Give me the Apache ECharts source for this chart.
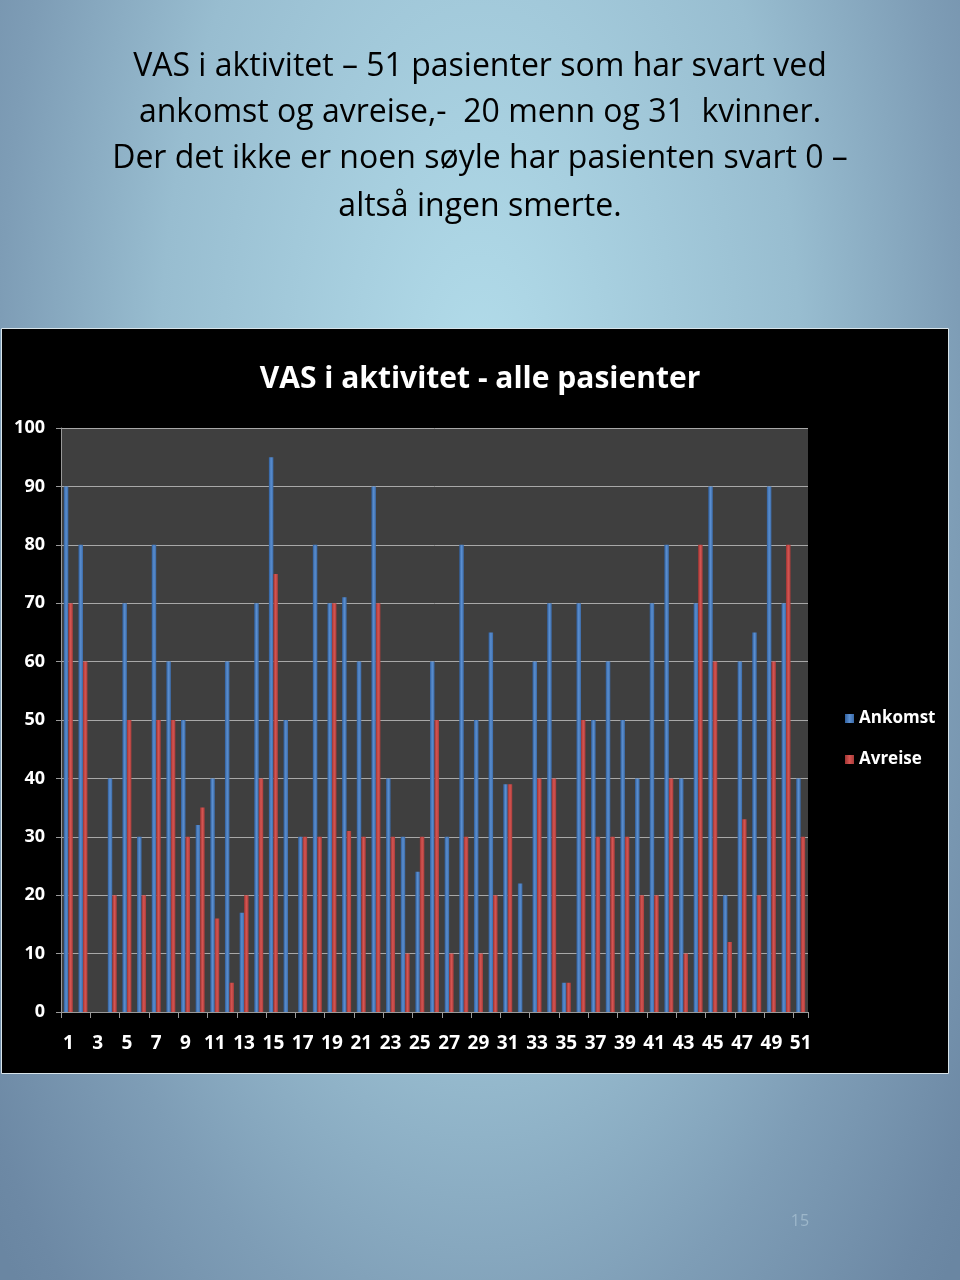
<!DOCTYPE html>
<html>
<head>
<meta charset="utf-8">
<script src="https://cdn.jsdelivr.net/npm/echarts@6/dist/echarts.min.js"></script>
<style>
html,body{margin:0;padding:0;background:#6d89a5;}
#c{width:960px;height:1280px;}
</style>
</head>
<body>
<div id="c"></div>
<script>
const categories = ['1','2','3','4','5','6','7','8','9','10','11','12','13','14','15','16','17','18','19','20','21','22','23','24','25','26','27','28','29','30','31','32','33','34','35','36','37','38','39','40','41','42','43','44','45','46','47','48','49','50','51'];
const ankomst = [90,80,0,40,70,30,80,60,50,32,40,60,17,70,95,50,30,80,70,71,60,90,40,30,24,60,30,80,50,65,39,22,60,70,5,70,50,60,50,40,70,80,40,70,90,20,60,65,90,70,40];
const avreise = [70,60,0,20,50,20,50,50,30,35,16,5,20,40,75,0,30,30,70,31,30,70,30,10,30,50,10,30,10,20,39,0,40,40,5,50,30,30,30,20,20,40,10,80,60,12,33,20,60,80,30];
const seriesNames = ['Ankomst','Avreise'];
const slideTitleLines = [
  'VAS i aktivitet \u2013 51 pasienter som har svart ved',
  'ankomst og avreise,-  20 menn og 31  kvinner.',
  'Der det ikke er noen søyle har pasienten svart 0 \u2013',
  'altså ingen smerte.'
];
const chartTitle = 'VAS i aktivitet - alle pasienter';
const pageNumber = '15';

const chart = echarts.init(document.getElementById('c'), null, {renderer:'canvas'});
const font = '"Open Sans",sans-serif';
const lineY = [67, 113, 159, 207];
const titleGraphics = slideTitleLines.map((t, i) => ({
  type:'text', x:480, y:lineY[i],
  style:{text:t, fill:'#000', font:'32px "Open Sans",sans-serif', textAlign:'center', textVerticalAlign:'middle'}
}));
const bgScaleY = 2.03;
chart.setOption({
  backgroundColor: 'transparent',
  graphic: [
    {type:'rect', x:0, y:0, scaleX:1, scaleY:bgScaleY, shape:{width:960, height:960}, z:-20, silent:true,
     style:{fill:{type:'radial', x:0.5, y:0.197, r:0.667,
       colorStops:[{offset:0,color:'#b2dcea'},{offset:0.5,color:'#98bdd0'},{offset:0.75,color:'#7e9db6'},{offset:0.95,color:'#6d89a5'},{offset:1,color:'#6a86a2'}]}}},
    {type:'rect', left:1, top:328, shape:{width:947, height:745}, style:{fill:'#000000', stroke:'#d8e4ea', lineWidth:1}, z:-10},
    {type:'text', x:800, y:1221, style:{text:pageNumber, fill:'#9db7ca', font:'16px "Open Sans",sans-serif', textAlign:'center', textVerticalAlign:'middle'}}
  ].concat(titleGraphics),
  title: [
    {text: chartTitle, left:475, top:359, textAlign:'center', textStyle:{color:'#fff', fontSize:30, fontWeight:'bold', fontFamily:font}}
  ],
  legend: {
    orient:'vertical', left:840, top:705, itemGap:24, itemWidth:9, itemHeight:9, icon:'rect',
    textStyle:{color:'#fff', fontSize:17, fontWeight:'bold', fontFamily:font},
    data: seriesNames
  },
  grid: {left:61, right:152, top:428, bottom:268, show:true, backgroundColor:'#3f3f3f', borderWidth:0},
  xAxis: {
    type:'category', data:categories,
    axisLine:{lineStyle:{color:'#9a9a9a'}},
    axisTick:{show:true, alignWithLabel:false, length:6, lineStyle:{color:'#9a9a9a'}},
    axisLabel:{interval:1, color:'#fff', fontSize:19, fontWeight:'bold', fontFamily:font, margin:22}
  },
  yAxis: {
    type:'value', min:0, max:100, interval:10,
    axisLine:{show:true, lineStyle:{color:'#9a9a9a'}},
    axisTick:{show:true, length:5, lineStyle:{color:'#9a9a9a'}},
    splitLine:{lineStyle:{color:'#a8a8a8', width:1}},
    axisLabel:{color:'#fff', fontSize:18, fontWeight:'bold', fontFamily:font, margin:16}
  },
  series: [
    {name:seriesNames[0], type:'bar', data:ankomst, barWidth:4.5, barGap:'0%',
     itemStyle:{color:{type:'linear',x:0,y:0,x2:1,y2:0,colorStops:[{offset:0,color:'#2f5f9e'},{offset:0.5,color:'#5b8fd0'},{offset:1,color:'#3a6aa8'}]}}},
    {name:seriesNames[1], type:'bar', data:avreise, barWidth:4.5,
     itemStyle:{color:{type:'linear',x:0,y:0,x2:1,y2:0,colorStops:[{offset:0,color:'#9e3432'},{offset:0.5,color:'#d65552'},{offset:1,color:'#a83c3a'}]}}}
  ]
});
</script>
</body>
</html>
